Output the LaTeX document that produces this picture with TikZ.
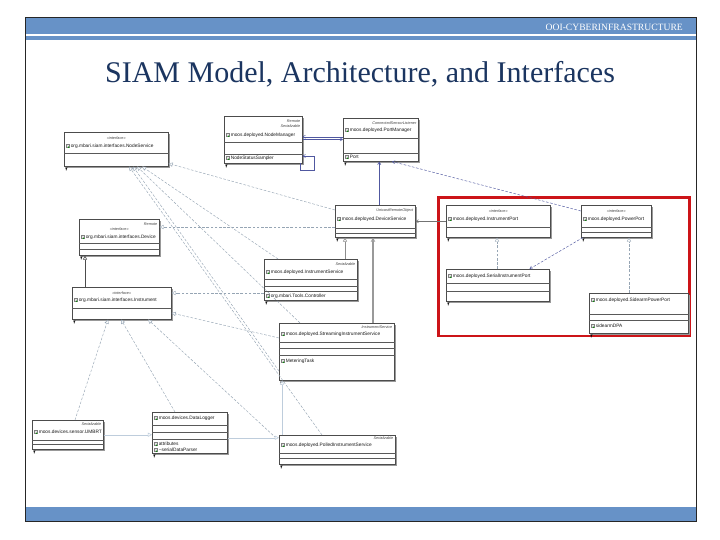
\documentclass[tikz,border=0pt]{standalone}
\usepackage{fontspec}
\setmainfont{Liberation Serif}
\newfontfamily\boxfont{Liberation Sans}
\usetikzlibrary{arrows.meta,shadows}
\definecolor{hdr}{RGB}{103,146,199}
\definecolor{titlec}{RGB}{27,53,96}
\definecolor{redbox}{RGB}{204,20,24}
\definecolor{conn}{RGB}{150,165,180}
\definecolor{connb}{RGB}{80,88,160}
\definecolor{faint}{RGB}{190,205,220}
\tikzset{
  cls/.style={anchor=north west, rectangle, draw=black!70, fill=white, line width=0.5pt, inner sep=0pt,
    drop shadow={shadow xshift=1.3pt, shadow yshift=-1.3pt, fill=black!40, opacity=1}},
  sepl/.style={draw=black!65, line width=0.45pt},
  nmtext/.style={font=\boxfont\fontsize{4.8}{5.4}\selectfont, text=black!90, inner sep=0pt},
  sttext/.style={font=\boxfont\itshape\fontsize{3.8}{4.2}\selectfont, text=black!75, inner sep=0pt},
  icong/.style={fill=black!10, draw=black!50, line width=0.25pt},
  dep/.style={draw=conn, dash pattern=on 2.6pt off 1.6pt, line width=0.45pt},
  solidg/.style={draw=black!45, line width=0.6pt},
  tri/.style={-{Triangle[open,length=4.2pt,width=4.2pt,fill=white]}},
  barb/.style={-{Straight Barb[length=2.6pt,width=3.2pt]}},
}
\newcommand{\umlbox}[5]{\node[cls, minimum width=#4pt, minimum height=#5pt] (#1) at (#2,#3) {};
  \fill[black] ([xshift=1pt,yshift=-1.2pt]#1.south west) -- ++(2.6pt,0) -- ++(-0.9pt,-1pt) -- ++(0,-1.6pt) -- ++(-0.8pt,0) -- ++(0,1.6pt) -- cycle;}
\newcommand{\usep}[2]{\draw[sepl] ([yshift=-#2pt]#1.north west) -- ([yshift=-#2pt]#1.north east);}
\newcommand{\uname}[3]{%
  \draw[icong] ([xshift=2pt,yshift=-#2pt+1.7pt]#1.north west) rectangle ([xshift=5.2pt,yshift=-#2pt-1.5pt]#1.north west);
  \fill[green!55!black] ([xshift=4.6pt,yshift=-#2pt-1.2pt]#1.north west) circle (0.8pt);
  \node[nmtext, anchor=west] (#1-n#2) at ([xshift=6.6pt,yshift=-#2pt]#1.north west) {#3};}
\newcommand{\ustc}[3]{\node[sttext] (#1-c#2) at ([yshift=-#2pt]#1.north) {#3};}
\newcommand{\ustr}[3]{\node[sttext, anchor=east] (#1-r#2) at ([xshift=-2pt,yshift=-#2pt]#1.north east) {#3};}
\begin{document}
\begin{tikzpicture}[x=1pt,y=-1pt]
\useasboundingbox (0,0) rectangle (720,540);
\fill[white] (0,0) rectangle (720,540);
% slide frame
\fill[hdr] (25,17) rectangle (696,34);
\fill[hdr] (25,35.6) rectangle (696,40.5);
\fill[hdr] (25,507) rectangle (696,521);
\draw[black!85, line width=0.7pt] (25,17) rectangle (696,521);
\node[font=\fontsize{9.6}{11}\selectfont, text=white, anchor=east, inner sep=0pt] (hdrtext) at (683,27.5) {OOI-CYBERINFRASTRUCTURE};
\node[font=\fontsize{30}{34}\selectfont, text=titlec, inner sep=0pt] (title) at (360,74) {SIAM Model, Architecture, and Interfaces};

% ---------- classes ----------
\umlbox{ns}{64}{132}{104}{34}
\ustc{ns}{6}{\guillemotleft interface\guillemotright}
\uname{ns}{14}{org.mbari.siam.interfaces.NodeService}
\usep{ns}{21}

\umlbox{nm}{224}{116}{78}{47}
\ustr{nm}{5}{Remote}
\ustr{nm}{10.5}{Serializable}
\uname{nm}{19}{moos.deployed.NodeManager}
\usep{nm}{26}\usep{nm}{38}
\uname{nm}{42}{NodeStatusSampler}

\umlbox{pm}{343}{118}{75}{43}
\ustr{pm}{5}{ConnectedSensorListener}
\uname{pm}{12}{moos.deployed.PortManager}
\usep{pm}{20}\usep{pm}{35}
\uname{pm}{39}{Port}

\umlbox{dev}{79}{219}{80}{36}
\ustr{dev}{5}{Remote}
\ustc{dev}{10}{\guillemotleft interface\guillemotright}
\uname{dev}{18}{org.mbari.siam.interfaces.Device}
\usep{dev}{24}\usep{dev}{30}

\umlbox{ins}{72}{287}{99}{32}
\ustc{ins}{6}{\guillemotleft interface\guillemotright}
\uname{ins}{13}{org.mbari.siam.interfaces.Instrument}
\usep{ins}{21}

\umlbox{ds}{335}{205}{80}{32}
\ustr{ds}{6}{UnicastRemoteObject}
\uname{ds}{14}{moos.deployed.DeviceService}
\usep{ds}{23}\usep{ds}{28}

\umlbox{is}{264}{259}{93}{41}
\ustr{is}{5}{Serializable}
\uname{is}{13}{moos.deployed.InstrumentService}
\usep{is}{20}\usep{is}{27}\usep{is}{32}
\uname{is}{37}{org.mbari.Tools.Controller}

\umlbox{pis}{279}{323}{115}{57}
\ustr{pis}{4}{InstrumentService}
\uname{pis}{11}{moos.deployed.StreamingInstrumentService}
\usep{pis}{19}\usep{pis}{25}\usep{pis}{32}
\uname{pis}{38}{MeteringTask}

\umlbox{lr}{32}{420}{71}{29}
\ustr{lr}{4}{Serializable}
\uname{lr}{12}{moos.devices.sensor.UMBRT}
\usep{lr}{20}\usep{lr}{24}

\umlbox{dst}{152}{412}{75}{41}
\uname{dst}{6}{moos.devices.DataLogger}
\usep{dst}{13}\usep{dst}{20}\usep{dst}{27}
\uname{dst}{32}{attributes}
\uname{dst}{38}{\textasciitilde serialDataParser}

\umlbox{bs}{279}{435}{116}{29}
\ustr{bs}{3.5}{Serializable}
\uname{bs}{10}{moos.deployed.PolledInstrumentService}
\usep{bs}{18}\usep{bs}{23}

% red highlight
\draw[redbox, line width=2.6pt] (438.5,197.5) rectangle (689.5,336);

\umlbox{ip}{446}{205}{104}{32}
\ustc{ip}{6}{\guillemotleft interface\guillemotright}
\uname{ip}{14}{moos.deployed.InstrumentPort}
\usep{ip}{22}

\umlbox{pp}{581}{205}{70}{32}
\ustc{pp}{6}{\guillemotleft interface\guillemotright}
\uname{pp}{14}{moos.deployed.PowerPort}
\usep{pp}{22}\usep{pp}{27}

\umlbox{sip}{446}{269}{103}{32}
\uname{sip}{7}{moos.deployed.SerialInstrumentPort}
\usep{sip}{14}\usep{sip}{22}

\umlbox{spp}{589}{293}{99}{40}
\uname{spp}{7}{moos.deployed.SidearmPowerPort}
\usep{spp}{21}\usep{spp}{27}
\uname{spp}{33}{sidearmDPA}

% ---------- connectors ----------
% NodeManager <-> PortManager
\draw[connb, line width=0.45pt, {Straight Barb[length=2.6pt,width=3.2pt]}-] ([yshift=3pt]nm.east) -- ([yshift=3pt]nm.east -| pm.west);
\draw[connb, line width=0.45pt, barb] ([yshift=0.3pt]nm.east) -- ([yshift=0.3pt]nm.east -| pm.west);
% self loop
\draw[connb, line width=0.5pt, {Straight Barb[length=2.6pt,width=3.2pt]}-] ([yshift=-40pt]nm.north east) -- ++(12pt,0) -- ++(0,-14pt) -| ([xshift=-2pt]nm.south east);
% DeviceService -> PortManager
\draw[connb, line width=0.6pt, barb] ([xshift=4pt]ds.north) -- ([xshift=4pt]ds.north |- pm.south);
% PowerPort -> PortManager
\draw[connb, dash pattern=on 2.6pt off 1.6pt, line width=0.45pt, barb] ([yshift=-6pt]pp.north west) -- ([xshift=49pt]pm.south west);
% DeviceService -> NodeService
\draw[dep, tri] ([yshift=-5pt]ds.north west) -- ([yshift=3pt]ns.south east);
% DeviceService -> Device
\draw[dep, tri] ([yshift=-22pt]ds.north west) -- ([yshift=-22pt]ds.north west -| dev.east);
% Instrument -> Device
\draw[draw=black!70, line width=0.6pt, tri] ([xshift=13pt]ins.north west) -- ([xshift=13pt]ins.north west |- dev.south);
% InstrumentService -> Instrument
\draw[dep, tri] ([yshift=-34pt]is.north west) -- ([yshift=-34pt]is.north west -| ins.east);
% Streaming -> Instrument
\draw[dep, tri] ([yshift=-15pt]pis.north west) -- ([yshift=-26pt]ins.north east);
% InstrumentService, Streaming -> DeviceService
\draw[solidg, tri] ([xshift=81pt]is.north west) -- ([xshift=81pt]is.north west |- ds.south);
\draw[solidg, line width=1.3pt, draw=black!40, tri] ([xshift=94pt]pis.north west) -- ([xshift=94pt]pis.north west |- ds.south);
% DeviceService -> InstrumentPort
\draw[draw=black!55, line width=0.5pt, {Straight Barb[length=2.6pt,width=3.2pt]}-] (ds.east) -- (ds.east -| ip.west);
% ports
\draw[dep, tri] ([xshift=51pt]sip.north west) -- ([xshift=51pt]sip.north west |- ip.south);
\draw[dep, tri] ([xshift=40pt]spp.north west) -- ([xshift=40pt]spp.north west |- pp.south);
\draw[connb, dash pattern=on 2.6pt off 1.6pt, line width=0.45pt, barb] ([xshift=2pt]pp.south west) -- ([xshift=-20pt]sip.north east);
% realizations of Instrument
\draw[dep, tri] ([xshift=43pt]lr.north west) -- ([xshift=36pt]ins.south west);
\draw[dep, tri] ([xshift=23pt]dst.north west) -- ([xshift=49pt]ins.south west);
\draw[dep, tri] ([xshift=-3pt,yshift=-3pt]bs.north west) -- ([xshift=76pt]ins.south west);
% faint links at bottom
\draw[faint, line width=0.5pt, tri] (lr.east) -- (lr.east -| dst.west);
\draw[faint, line width=0.5pt, tri] ([yshift=-5pt]dst.east) -- ([yshift=-5pt]dst.east -| bs.west);
\draw[faint, line width=0.5pt, tri] ([xshift=3pt]bs.north west) -- ([xshift=3pt]bs.north west |- pis.south);
% fan into NodeService
\draw[dep, tri] ([xshift=14pt]is.north west) -- ([xshift=78pt]ns.south west);
\draw[dep, tri] ([xshift=21pt]pis.north west) -- ([xshift=73pt]ns.south west);
\draw[dep, tri] ([yshift=-48pt]pis.north west) -- ([xshift=69pt]ns.south west);
\draw[dep, tri] ([xshift=43pt]bs.north west) -- ([xshift=65pt]ns.south west);
\end{tikzpicture}
\end{document}
